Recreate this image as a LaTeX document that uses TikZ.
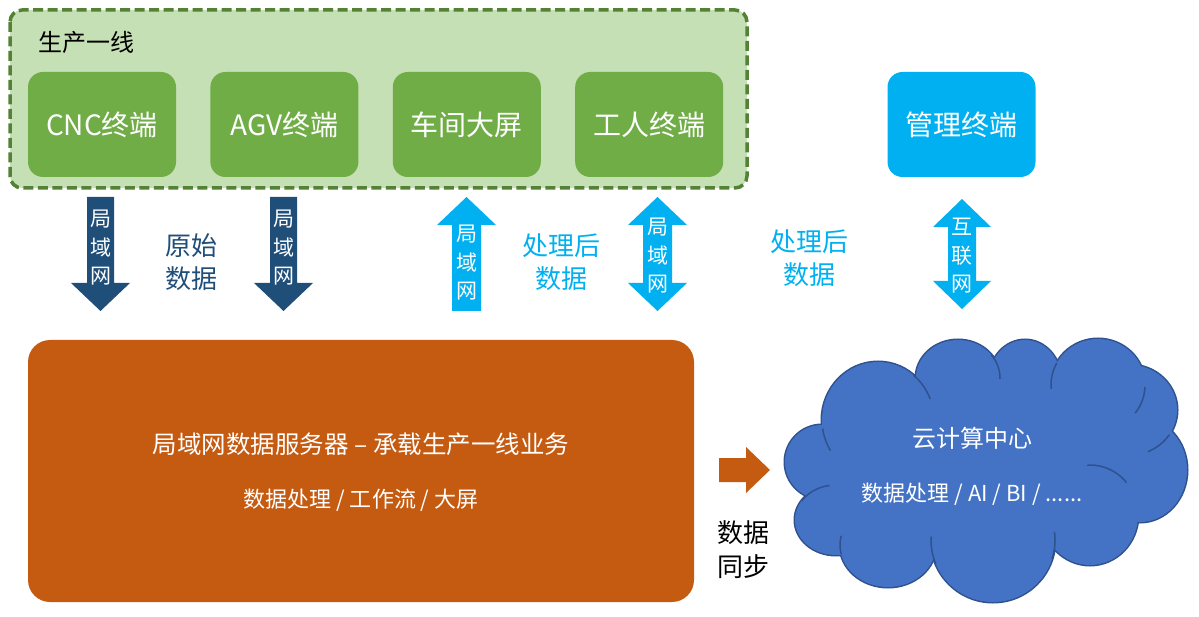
\documentclass[tikz,border=0pt]{standalone}
\usepackage{fontspec}
\setmainfont{Noto Sans CJK SC}
\usepackage{xcolor}
\usepackage{tikz}
\usetikzlibrary{positioning}

\definecolor{zonegreen}{HTML}{C5E0B4}
\definecolor{zoneedge}{HTML}{548235}
\definecolor{termgreen}{HTML}{70AD47}
\definecolor{netcyan}{HTML}{00B0F0}
\definecolor{lannavy}{HTML}{1F4E79}
\definecolor{srvorange}{HTML}{C55A11}
\definecolor{cloudblue}{HTML}{4472C4}
\definecolor{cloudedge}{HTML}{2F528F}

\newcommand{\fsz}[2]{\fontsize{#1}{#2}\selectfont}

\begin{document}
\begin{tikzpicture}[
    x=1pt, y=-1pt,
    every node/.style={inner sep=0pt, align=center},
    zone/.style={draw=zoneedge, fill=zonegreen, line width=3.5pt,
                 dash pattern=on 10pt off 4.5pt, rounded corners=12pt},
    term/.style={fill=termgreen, rounded corners=15pt, minimum width=148pt,
                 minimum height=105pt, text=white, font=\fsz{28}{32}},
    mgmt/.style={term, fill=netcyan},
    server/.style={fill=srvorange, rounded corners=22pt, minimum width=666pt,
                   minimum height=262pt},
    annot/.style={font=\fsz{26}{33}},
    lanlbl/.style={text=white, font=\fsz{21}{28.5}},
    intext/.style={text=white},
    cloudpuff/.style={draw=cloudedge, fill=cloudblue, line width=3pt},
    cloudfill/.style={fill=cloudblue},
    cloudarc/.style={draw=cloudedge, line width=1.5pt}
]
\useasboundingbox (0,0) rectangle (1199,617);

% =========================================================
% TOP: production line and its terminals
% =========================================================
\draw[zone] (10,10) rectangle (747,188);
\node[font=\fsz{24}{28}] (linelbl) at (86,42) {生产一线};

\node[term] (cnc) at (102,124.5) {CNC终端};
\node[term, right=34pt of cnc] (agv) {AGV终端};
\node[term, right=34pt of agv] (screen) {车间大屏};
\node[term, right=34pt of screen] (worker) {工人终端};

\node[mgmt] (mgr) at (961.5,124.5) {管理终端};

% =========================================================
% MIDDLE: block arrows (LAN / internet)
% =========================================================
% raw data down into the server
\fill[lannavy] (87,197) -- (114,197) -- (114,283) -- (130,283) -- (100.5,311)
    -- (71,283) -- (87,283) -- cycle;
\node[lanlbl] (lan1) at (100.5,248) {局\\域\\网};
\fill[lannavy] (270,197) -- (297,197) -- (297,283) -- (313,283) -- (283.5,311)
    -- (254,283) -- (270,283) -- cycle;
\node[lanlbl] (lan2) at (283.5,248) {局\\域\\网};
\node[annot, text=lannavy] (rawlbl) at (191,262) {原始\\数据};

% processed data back up
\fill[netcyan] (452,311) -- (481,311) -- (481,225) -- (496,225) -- (466.5,197)
    -- (437,225) -- (452,225) -- cycle;
\node[lanlbl] (lan3) at (466.5,263) {局\\域\\网};
\node[annot, text=netcyan] (proclbl1) at (561,262) {处理后\\数据};

\fill[netcyan] (657.5,197) -- (687,225) -- (672,225) -- (672,283) -- (687,283)
    -- (657.5,311) -- (628,283) -- (643,283) -- (643,225) -- (628,225) -- cycle;
\node[lanlbl] (lan4) at (657.5,256) {局\\域\\网};
\node[annot, text=netcyan] (proclbl2) at (809,258) {处理后\\数据};

\fill[netcyan] (962,199) -- (991,227) -- (976,227) -- (976,281) -- (991,281)
    -- (962,309) -- (933,281) -- (948,281) -- (948,227) -- (933,227) -- cycle;
\node[lanlbl] (wan) at (962,256) {互\\联\\网};

% =========================================================
% BOTTOM LEFT: LAN data server
% =========================================================
\node[server] (srv) at (361,471) {};
\node[intext, font=\fsz{24.5}{28}] (srvtitle) at (361,444)
    {局域网数据服务器 – 承载生产一线业务};
\node[intext, font=\fsz{22}{26}] (srvsub) at (361,500)
    {数据处理 / 工作流 / 大屏};

% data sync arrow
\fill[srvorange] (719,458) -- (746,458) -- (746,447) -- (770,470) -- (746,493)
    -- (746,482) -- (719,482) -- cycle;
\node[font=\fsz{26}{34}] (synclbl) at (743,550) {数据\\同步};

% =========================================================
% BOTTOM RIGHT: cloud
% =========================================================
\foreach \cx/\cy/\rx/\ry in {822/462/37/37, 836/520/41/35, 888/545/48/42,
    993/540/62/62, 1090/515/48/50, 1140/470/47/52, 1130/410/47/45,
    1098/385/47/46, 958/378/42/38, 1025/380/36/40, 878/420/56/58}
  \filldraw[cloudpuff] (\cx,\cy) ellipse [x radius=\rx, y radius=\ry];
\foreach \cx/\cy/\rx/\ry in {822/462/37/37, 836/520/41/35, 888/545/48/42,
    993/540/62/62, 1090/515/48/50, 1140/470/47/52, 1130/410/47/45,
    1098/385/47/46, 958/378/42/38, 1025/380/36/40, 878/420/56/58,
    985/465/140/90}
  \fill[cloudfill] (\cx,\cy) ellipse [x radius=\rx, y radius=\ry];
% short inner arcs at the notches
\foreach \cx/\cy/\rx/\ry/\kx/\ky/\kr in {878/420/56/58/925/385/15,
    958/378/42/38/1000/365/14, 1098/385/47/46/1050/375/14,
    1098/385/47/46/1140/400/14, 1130/410/47/45/1160/445/14,
    1090/515/48/50/1105/478/22, 993/540/62/62/1050/545/14,
    993/540/62/62/935/550/14, 888/545/48/42/845/545/10,
    836/520/41/35/815/492/16, 878/420/56/58/825/440/12}
{
  \begin{scope}
    \clip (\kx,\ky) circle [radius=\kr];
    \draw[cloudarc] (\cx,\cy) ellipse [x radius=\rx, y radius=\ry];
  \end{scope}
}

\node[intext, font=\fsz{24}{28}] (cloudtitle) at (972,438) {云计算中心};
\node[intext, font=\fsz{22}{26}] (cloudsub) at (972,494)
    {数据处理 / AI / BI / ......};

\end{tikzpicture}
\end{document}
